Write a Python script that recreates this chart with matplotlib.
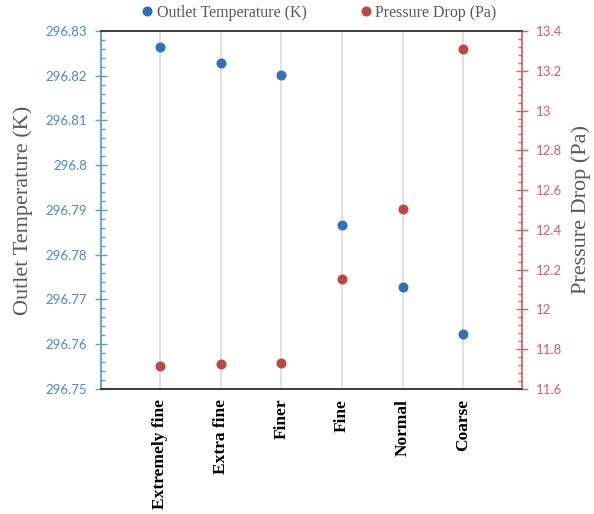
import numpy as np
import matplotlib.pyplot as plt
from matplotlib.ticker import FixedLocator, AutoMinorLocator

# mesh settings and results
mesh = ["Extremely fine", "Extra fine", "Finer", "Fine", "Normal", "Coarse"]
outlet_temp = [296.8264, 296.8228, 296.8202, 296.7866, 296.7727, 296.7623]
pressure_drop = [11.716, 11.726, 11.732, 12.152, 12.507, 13.311]

temp_ticks = [296.75, 296.76, 296.77, 296.78, 296.79, 296.80, 296.81, 296.82, 296.83]
dp_ticks = [11.6, 11.8, 12.0, 12.2, 12.4, 12.6, 12.8, 13.0, 13.2, 13.4]

blue = "#2F72B8"
red = "#C0473F"
blue_txt = "#4A86CF"
red_txt = "#E05A5A"
gray = "#595959"

fig = plt.figure(figsize=(5.94, 5.14), dpi=100)
ax = fig.add_axes([0.170, 0.2432, 0.709, 0.6965])
ax2 = ax.twinx()

x = np.arange(1, len(mesh) + 1)

ax.plot(x, outlet_temp, "o", color=blue, ms=6.2, label="Outlet Temperature (K)", zorder=3)
ax2.plot(x, pressure_drop, "o", color=red, ms=6.2, label="Pressure Drop (Pa)", zorder=3)

ax.set_xlim(0.03, 6.97)
ax.set_ylim(temp_ticks[0], temp_ticks[-1])
ax2.set_ylim(dp_ticks[0], dp_ticks[-1])

# vertical grid at each category only
for xi in x:
    ax.axvline(xi, color="#D9D9D9", lw=1.1, zorder=0)

ax.set_xticks(x)
ax.set_xticklabels(mesh, rotation=90, fontfamily="Liberation Serif",
                   fontweight="bold", fontsize=12.5, va="top")
ax.tick_params(axis="x", length=0, pad=7)

# left axis
ax.yaxis.set_major_locator(FixedLocator(temp_ticks))
ax.yaxis.set_minor_locator(AutoMinorLocator(5))
ax.set_yticklabels([f"{round(v, 2):g}" for v in temp_ticks])
ax.tick_params(axis="y", which="major", direction="inout", length=8, width=1,
               color="#5B9BD5", labelcolor=blue_txt, labelsize=9.5, pad=6)
ax.tick_params(axis="y", which="minor", direction="in", length=3, width=1, color="#5B9BD5")
for lbl in ax.get_yticklabels():
    lbl.set_fontfamily("Lato")

# right axis
ax2.yaxis.set_major_locator(FixedLocator(dp_ticks))
ax2.yaxis.set_minor_locator(AutoMinorLocator(5))
ax2.set_yticklabels([f"{round(v, 1):g}" for v in dp_ticks])
ax2.tick_params(axis="y", which="major", direction="inout", length=8, width=1,
                color="#E06060", labelcolor=red_txt, labelsize=9.5, pad=6)
ax2.tick_params(axis="y", which="minor", direction="in", length=3, width=1, color="#E06060")
for lbl in ax2.get_yticklabels():
    lbl.set_fontfamily("Lato")

# spines
for a in (ax, ax2):
    a.spines["top"].set_color("#404040")
    a.spines["bottom"].set_color("#404040")
    a.spines["top"].set_linewidth(1.3)
    a.spines["bottom"].set_linewidth(1.3)
ax.spines["right"].set_visible(False)
ax2.spines["left"].set_visible(False)
ax.spines["left"].set_color("#5B9BD5")
ax2.spines["right"].set_color("#E06060")
ax.spines["left"].set_linewidth(1.3)
ax2.spines["right"].set_linewidth(1.3)

ax.set_ylabel("Outlet Temperature (K)", fontfamily="Liberation Serif", fontsize=16, color=gray)
ax.yaxis.set_label_coords(-0.162, 0.5)
ax2.set_ylabel("Pressure Drop (Pa)", fontfamily="Liberation Serif", fontsize=16, color=gray, rotation=90)
ax2.yaxis.set_label_coords(1.116, 0.5)

h1, l1 = ax.get_legend_handles_labels()
h2, l2 = ax2.get_legend_handles_labels()
leg = fig.legend(h1 + h2, l1 + l2, loc="center", bbox_to_anchor=(0.535, 0.975), ncol=2,
                 frameon=False, prop={"family": "Liberation Serif", "size": 11.5},
                 handletextpad=0.1, columnspacing=3.2, handlelength=1.0)
for t in leg.get_texts():
    t.set_color(gray)

fig.savefig("out.png", dpi=100)
